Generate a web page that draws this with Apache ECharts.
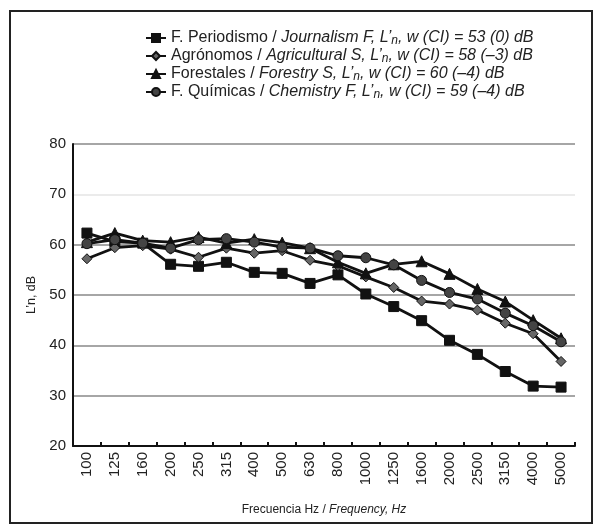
<!DOCTYPE html>
<html>
<head>
<meta charset="utf-8">
<script src="https://cdn.jsdelivr.net/npm/echarts@6/dist/echarts.min.js"></script>
<style>
  html, body { margin: 0; padding: 0; background: #fff; }
  #chart { width: 602px; height: 532px; }
</style>
</head>
<body>
<div id="chart"></div>
<script>
const frequencies = ['100', '125', '160', '200', '250', '315', '400', '500', '630', '800',
  '1000', '1250', '1600', '2000', '2500', '3150', '4000', '5000'];

const journalism   = [62.3, 60.6, 60.3, 56.1, 55.7, 56.5, 54.5, 54.3, 52.3, 54.0, 50.2, 47.7, 44.9, 41.0, 38.2, 34.8, 31.9, 31.7];
const agricultural = [57.2, 59.4, 59.8, 59.1, 57.5, 59.3, 58.3, 58.8, 56.9, 55.8, 53.6, 51.5, 48.8, 48.2, 47.0, 44.4, 42.3, 36.8];
const forestry     = [60.5, 62.3, 60.8, 60.5, 61.5, 60.3, 61.1, 60.4, 59.3, 56.5, 54.3, 56.1, 56.7, 54.2, 51.2, 48.7, 45.0, 41.4];
const chemistry    = [60.2, 61.0, 60.3, 59.3, 61.0, 61.2, 60.5, 59.5, 59.3, 57.8, 57.4, 56.0, 52.9, 50.5, 49.2, 46.4, 43.9, 40.7];

const legendNames = {
  'Periodismo': 'F. Periodismo / {i|Journalism F, L’}{s|n}{i|, w (CI) = 53 (0) dB}',
  'Agronomos': 'Agrónomos / {i|Agricultural S, L’}{s|n}{i|, w (CI) = 58 (–3) dB}',
  'Forestales': 'Forestales / {i|Forestry S, L’}{s|n}{i|, w (CI) = 60 (–4) dB}',
  'Quimicas': 'F. Químicas / {i|Chemistry F, L’}{s|n}{i|, w (CI) = 59 (–4) dB}'
};

const font = 'Liberation Sans';

function lineSeries(name, data, symbol, size, fill) {
  return {
    name: name,
    type: 'line',
    data: data,
    symbol: symbol,
    symbolSize: size,
    showAllSymbol: true,
    lineStyle: { color: '#111', width: 2.8 },
    itemStyle: { color: fill, borderColor: '#111', borderWidth: 1 },
    emphasis: { disabled: true },
    z: 3
  };
}

const chart = echarts.init(document.getElementById('chart'), null, { renderer: 'canvas' });

chart.setOption({
  animation: false,
  backgroundColor: '#fff',
  textStyle: { fontFamily: font },
  graphic: [{
    type: 'rect',
    shape: { x: 10, y: 11, width: 582, height: 512 },
    style: { fill: 'none', stroke: '#222', lineWidth: 2 },
    silent: true
  }],
  legend: {
    orient: 'vertical',
    left: 140,
    top: 25,
    itemWidth: 20,
    itemHeight: 10,
    itemGap: 1,
    textStyle: {
      fontFamily: font,
      fontSize: 16,
      color: '#222',
      rich: {
        i: { fontFamily: font, fontSize: 16, fontStyle: 'italic', color: '#222' },
        s: { fontFamily: font, fontSize: 12, fontStyle: 'italic', color: '#222', padding: [6, 0, 0, 0] }
      }
    },
    formatter: function (name) { return legendNames[name]; }
  },
  grid: { left: 73, right: 27, top: 144, bottom: 86 },
  xAxis: {
    type: 'category',
    data: frequencies,
    boundaryGap: true,
    name: 'Frecuencia Hz / {i|Frequency, Hz}',
    nameLocation: 'middle',
    nameGap: 58,
    nameTextStyle: {
      fontFamily: font, fontSize: 12, color: '#222',
      rich: { i: { fontFamily: font, fontSize: 12, fontStyle: 'italic', color: '#222' } }
    },
    axisLine: { lineStyle: { color: '#111', width: 2 } },
    axisTick: { show: true, inside: true, length: 4, lineStyle: { color: '#111', width: 2 } },
    axisLabel: { rotate: 90, fontSize: 15, color: '#222', margin: 6, interval: 0 },
    splitLine: { show: false }
  },
  yAxis: {
    type: 'value',
    min: 20,
    max: 80,
    interval: 10,
    name: 'L’n, dB',
    nameLocation: 'middle',
    nameGap: 33,
    nameTextStyle: { fontFamily: font, fontSize: 12.5, color: '#222' },
    axisLine: { show: true, lineStyle: { color: '#111', width: 2 } },
    axisTick: { show: false },
    axisLabel: { fontSize: 15, color: '#222', margin: 7 },
    splitLine: {
      show: true,
      lineStyle: { color: ['#888', '#888', '#888', '#888', '#888', '#e4e4e4', '#888'], width: 1.5 }
    }
  },
  series: [
    lineSeries('Periodismo', journalism, 'rect', 10, '#111'),
    lineSeries('Agronomos', agricultural, 'diamond', 10, '#666'),
    lineSeries('Forestales', forestry, 'triangle', 11, '#111'),
    lineSeries('Quimicas', chemistry, 'circle', 10, '#444')
  ]
});
</script>
</body>
</html>
